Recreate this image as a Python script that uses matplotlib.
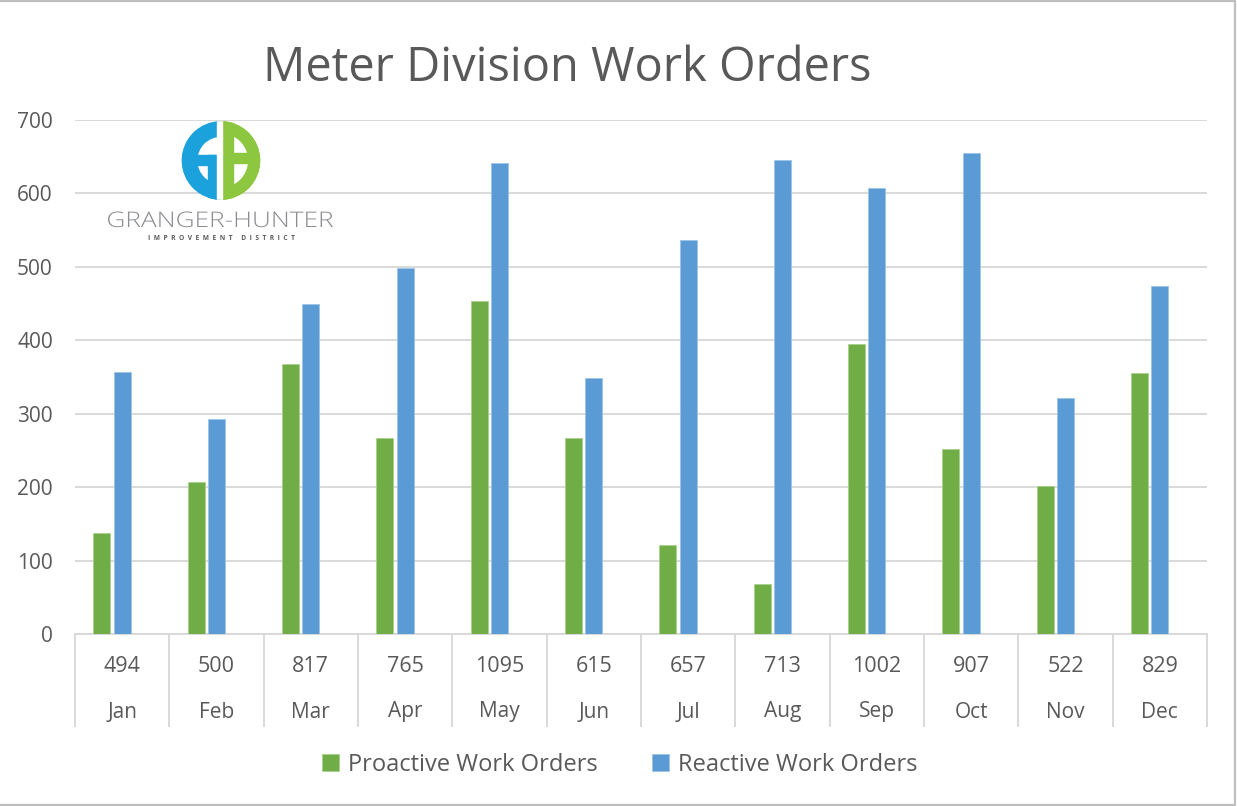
import matplotlib
matplotlib.use("Agg")
import matplotlib.pyplot as plt
import numpy as np
from matplotlib.patches import Rectangle, Wedge, Circle, PathPatch
from matplotlib.transforms import blended_transform_factory, Affine2D
from matplotlib.textpath import TextPath
from matplotlib.font_manager import FontProperties

plt.rcParams['font.family'] = ['Open Sans', 'DejaVu Sans']

months = ["Jan", "Feb", "Mar", "Apr", "May", "Jun", "Jul", "Aug", "Sep", "Oct", "Nov", "Dec"]
proactive = [137, 207, 368, 267, 454, 267, 121, 68, 395, 252, 201, 355]
reactive = [357, 293, 449, 498, 641, 348, 536, 645, 607, 655, 321, 474]
totals = [494, 500, 817, 765, 1095, 615, 657, 713, 1002, 907, 522, 829]
yticks = [0, 100, 200, 300, 400, 500, 600, 700]

W, H = 1237, 806
fig = plt.figure(figsize=(W / 100, H / 100), dpi=100)
fig.patch.set_facecolor("white")

L, R, B, T = 75, 1207, 634, 120
ax = fig.add_axes([L / W, 1 - B / H, (R - L) / W, (B - T) / H])

GREEN = "#70AD47"
BLUE = "#5B9BD5"
TXT = "#595959"
GRID = "#D9D9D9"

x = np.arange(len(months))
bw = 0.18
off = 0.217
ax.bar(x - off, proactive, width=bw, color=GREEN, edgecolor="#A9D18E", linewidth=0.6, zorder=3,
       label="Proactive Work Orders")
ax.bar(x, reactive, width=bw, color=BLUE, edgecolor="#9DC3E6", linewidth=0.6, zorder=3,
       label="Reactive Work Orders")

ax.set_xlim(-0.5, len(months) - 0.5)
ax.set_ylim(0, 700)
ax.set_yticks(yticks)
ax.set_yticklabels([str(v) for v in yticks], fontsize=15, color=TXT)
ax.yaxis.grid(True, color=GRID, linewidth=1.4, zorder=0)
ax.set_axisbelow(True)
ax.tick_params(axis="y", length=0, pad=16)
ax.set_xticks([])
for s in ["top", "right", "left"]:
    ax.spines[s].set_visible(False)
ax.spines["bottom"].set_color(GRID)
ax.spines["bottom"].set_linewidth(1.4)

# data-table style category axis
tr = blended_transform_factory(ax.transData, ax.transAxes)
h_ax = B - T
y_num = -(666 - B) / h_ax
y_mon = -(712 - B) / h_ax
y_bot = -(726 - B) / h_ax
for i, (m, t) in enumerate(zip(months, totals)):
    ax.text(i, y_num, str(t), transform=tr, ha="center", va="center", fontsize=15.5, color=TXT)
    ax.text(i, y_mon, m, transform=tr, ha="center", va="center", fontsize=15, color=TXT)
for k in range(len(months) + 1):
    ax.plot([k - 0.5, k - 0.5], [0, y_bot], transform=tr, color=GRID, linewidth=1.4, clip_on=False)

# title
fig.text(567 / W, 1 - 68 / H, "Meter Division Work Orders", ha="center", va="center",
         fontsize=33.8, color=TXT)

# legend
handles, labels = ax.get_legend_handles_labels()
fig.legend(handles, labels, loc="center", bbox_to_anchor=(620 / W, 1 - 765 / H), ncol=2,
           frameon=False, fontsize=17, labelcolor=TXT, handlelength=0.7, handleheight=0.7,
           handletextpad=0.4, columnspacing=2.3)

# overlay for logo and border (pixel coordinates)
ov = fig.add_axes([0, 0, 1, 1], facecolor="none")
ov.set_xlim(0, W)
ov.set_ylim(H, 0)
ov.axis("off")

cx, cy, Rr = 221, 160.5, 39.3
LB = "#1BA1DC"
LG = "#8DC63F"
clip = Circle((cx, cy), Rr, transform=ov.transData)
parts = [
    Wedge((cx, cy), Rr, 90, 270, width=15, color=LB),
    Rectangle((cx - 13, cy - 5.5), 10, 60, color=LB),
    Rectangle((cx - 26, cy - 5.5), 23, 10, color=LB),
    Wedge((cx, cy), Rr, -90, 90, width=11.5, color=LG),
    Rectangle((cx, cy - 45), 12, 90, color=LG),
    Rectangle((cx, cy - 7.5), 30, 10, color=LG),
    Rectangle((cx - 4, cy - 45), 5, 90, color="white"),
]
for p in parts:
    ov.add_patch(p)
    p.set_clip_path(clip)

# GRANGER-HUNTER wordmark (stretched text path)
fp = FontProperties(family="Open Sans", weight="light")
tp = TextPath((0, 0), "GRANGER-HUNTER", size=21.5, prop=fp)
ext = tp.get_extents()
sx = 225 / ext.width
trp = Affine2D().translate(-ext.x0, 0).scale(sx, -1).translate(108, 227)
ov.add_patch(PathPatch(trp.transform_path(tp), color="#8A8C8F", lw=0))

ov.text(221, 238.5, "  ".join("IMPROVEMENT") + "     " + "  ".join("DISTRICT"), ha="center",
        va="center", fontsize=4.8, color="#58595B", fontweight="bold")

# frame (top, right, bottom)
ov.plot([0, W - 2.5, W - 2.5, 0], [1.2, 1.2, H - 1.5, H - 1.5], color="#BFBFBF", lw=1.6)

fig.savefig("out.png", dpi=100, facecolor="white")
